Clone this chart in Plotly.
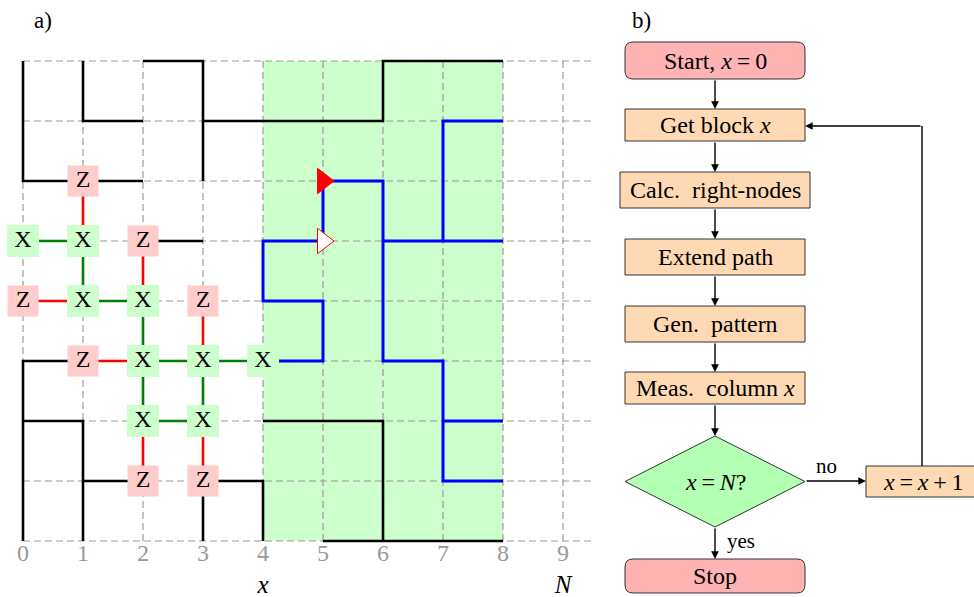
import plotly.graph_objects as go

W, H = 974, 597
SERIF = "Liberation Serif, DejaVu Serif, serif"

# ---------------- panel a) lattice data ----------------
cols = list(range(10))
rows = list(range(9))
col_labels = [str(c) for c in cols]
x_axis_label = "<i>x</i>"
n_label = "<i>N</i>"
window_cols = [4, 8]          # highlighted block of columns

# black boundary paths (column, row)
black_paths = [
    ([0, 0, 2], [8, 6, 6]),
    ([1, 1, 2], [8, 7, 7]),
    ([2, 3, 3], [8, 8, 6]),
    ([3, 6, 6, 8], [7, 7, 8, 8]),
    ([2, 3], [5, 5]),
    ([1, 0, 0], [3, 3, 0]),
    ([0, 1, 1], [2, 2, 0]),
    ([1, 2], [1, 1]),
    ([3, 4, 4], [1, 1, 0]),
    ([3, 3], [1, 0]),
    ([4, 6, 6], [2, 2, 0]),
    ([5, 8], [0, 0]),
]

# blue paths inside the window
blue_paths = [
    ([4, 5, 5, 4, 4, 5, 5, 6, 6, 7, 7, 8], [3, 3, 4, 4, 5, 5, 6, 6, 3, 3, 1, 1]),
    ([6, 8], [5, 5]),
    ([7, 7, 8], [5, 7, 7]),
    ([7, 8], [2, 2]),
]

# measured qubits
x_nodes = [(0, 5), (1, 5), (1, 4), (2, 4), (2, 3), (3, 3), (4, 3), (2, 2), (3, 2)]
z_nodes = [(1, 6), (2, 5), (0, 4), (3, 4), (1, 3), (2, 1), (3, 1)]

green_edges = [((0, 5), (1, 5)), ((1, 5), (1, 4)), ((1, 4), (2, 4)), ((2, 4), (2, 3)),
               ((2, 3), (3, 3)), ((3, 3), (4, 3)), ((2, 3), (2, 2)), ((2, 2), (3, 2)),
               ((3, 3), (3, 2))]
red_edges = [((1, 6), (1, 5)), ((2, 5), (2, 4)), ((0, 4), (1, 4)), ((3, 4), (3, 3)),
             ((1, 3), (2, 3)), ((2, 2), (2, 1)), ((3, 2), (3, 1))]

# path-direction markers
arrow_filled = (5, 6)
arrow_open = (5, 5)

# ---------------- panel b) flowchart data ----------------
EQ = "\u2009=\u2009"
step_labels = [f"Start, <i>x</i>{EQ}0", "Get block <i>x</i>", "Calc.  right-nodes",
               "Extend path", "Gen.  pattern", "Meas.  column <i>x</i>",
               f"<i>x</i>{EQ}<i>N</i>?", "Stop", f"<i>x</i>{EQ}<i>x</i>\u2009+\u20091"]
branch_labels = ["no", "yes"]

fig = go.Figure()

# left axis: one unit = 60 px, origin at (23, 541) px
LEFT_W = 600
xr = [-23 / 60, (LEFT_W - 23) / 60]
yr = [(541 - H) / 60, 541 / 60]

# dashed lattice
gx, gy = [], []
for c in cols:
    gx += [c, c, None]
    gy += [rows[0], rows[-1], None]
for r in rows:
    gx += [cols[0], 9.53, None]
    gy += [r, r, None]
fig.add_trace(go.Scatter(x=gx, y=gy, mode="lines", hoverinfo="skip",
                         line=dict(color="#9a9a9a", width=1.2, dash="7px,4px")))

for px, py in black_paths:
    fig.add_trace(go.Scatter(x=px, y=py, mode="lines", hoverinfo="skip",
                             line=dict(color="black", width=2.6)))
for px, py in blue_paths:
    fig.add_trace(go.Scatter(x=px, y=py, mode="lines", hoverinfo="skip",
                             line=dict(color="#0000ff", width=3)))


def edge_trace(edges, color):
    ex, ey = [], []
    for (a, b) in edges:
        ex += [a[0], b[0], None]
        ey += [a[1], b[1], None]
    return go.Scatter(x=ex, y=ey, mode="lines", hoverinfo="skip",
                      line=dict(color=color, width=2.6))


fig.add_trace(edge_trace(green_edges, "#008000"))
fig.add_trace(edge_trace(red_edges, "#ff0000"))

fig.add_trace(go.Scatter(
    x=[p[0] for p in x_nodes], y=[p[1] for p in x_nodes], mode="markers+text",
    text=["X"] * len(x_nodes), textposition="middle center",
    textfont=dict(family=SERIF, size=24, color="black"),
    marker=dict(symbol="square", size=32, color="#ccffcc", line=dict(width=0)),
    hoverinfo="skip"))
fig.add_trace(go.Scatter(
    x=[p[0] for p in z_nodes], y=[p[1] for p in z_nodes], mode="markers+text",
    text=["Z"] * len(z_nodes), textposition="middle center",
    textfont=dict(family=SERIF, size=24, color="black"),
    marker=dict(symbol="square", size=31, color="#ffcccc", line=dict(width=0)),
    hoverinfo="skip"))

fig.add_trace(go.Scatter(x=[arrow_filled[0]], y=[arrow_filled[1]], mode="markers",
                         marker=dict(symbol="triangle-right", size=22, color="#ff0000",
                                     line=dict(color="#ff0000", width=1)),
                         hoverinfo="skip"))
fig.add_trace(go.Scatter(x=[arrow_open[0]], y=[arrow_open[1]], mode="markers",
                         marker=dict(symbol="triangle-right", size=22, color="white",
                                     line=dict(color="#ff0000", width=1)),
                         hoverinfo="skip"))

# column numbers and axis labels
fig.add_trace(go.Scatter(x=cols, y=[-0.24] * len(cols), mode="text", text=col_labels,
                         textfont=dict(family=SERIF, size=24, color="#999999"),
                         hoverinfo="skip"))
fig.add_trace(go.Scatter(x=[4, 9], y=[-0.76, -0.76], mode="text",
                         text=[x_axis_label, n_label],
                         textfont=dict(family=SERIF, size=25, color="black"),
                         hoverinfo="skip"))

shapes = [dict(type="rect", xref="x", yref="y", x0=window_cols[0], x1=window_cols[1],
               y0=rows[0], y1=rows[-1], fillcolor="#ccffcc", line=dict(width=0),
               layer="below")]
annotations = [
    dict(xref="x", yref="y", x=xr[0] + 43 / 60, y=yr[1] - 20 / 60, text="a)",
         showarrow=False, font=dict(family=SERIF, size=23, color="black")),
]

# ---------------- flowchart (pixel coordinates on x2/y2) ----------------
PINK = "#ffb3b3"
PEACH = "#ffd9b3"
MINT = "#b3ffb3"
EDGE = "#333333"


def rounded(x0, y0, x1, y1, r):
    return (f"M {x0 + r},{y0} L {x1 - r},{y0} Q {x1},{y0} {x1},{y0 + r} "
            f"L {x1},{y1 - r} Q {x1},{y1} {x1 - r},{y1} L {x0 + r},{y1} "
            f"Q {x0},{y1} {x0},{y1 - r} L {x0},{y0 + r} Q {x0},{y0} {x0 + r},{y0} Z")


boxes = [  # (x0, y0, x1, y1, fill, rounded?)
    (625, 42, 805, 79, PINK, True),
    (625, 109, 805, 141, PEACH, False),
    (620, 172, 810, 208, PEACH, False),
    (625, 239, 805, 275, PEACH, False),
    (625, 306, 805, 342, PEACH, False),
    (625, 372, 805, 404, PEACH, False),
    None,
    (625, 559, 805, 593, PINK, True),
    (866, 466, 980, 497, PEACH, False),
]
diamond = (715, 436, 625, 805, 527)

for i, b in enumerate(boxes):
    if b is None:
        cx, cy = 715, (diamond[1] + diamond[4]) / 2
        shapes.append(dict(type="path", xref="x2", yref="y2",
                           path=f"M {diamond[2]},{cy} L {cx},{diamond[1]} L {diamond[3]},{cy} "
                                f"L {cx},{diamond[4]} Z",
                           fillcolor=MINT, line=dict(color=EDGE, width=1)))
    else:
        x0, y0, x1, y1, fill, rnd = b
        if rnd:
            shapes.append(dict(type="path", xref="x2", yref="y2",
                               path=rounded(x0, y0, x1, y1, 8),
                               fillcolor=fill, line=dict(color=EDGE, width=1)))
        else:
            shapes.append(dict(type="rect", xref="x2", yref="y2", x0=x0, x1=x1,
                               y0=y0, y1=y1, fillcolor=fill,
                               line=dict(color=EDGE, width=1)))
        cx, cy = (x0 + min(x1, 974)) / 2 + (3 if x1 > 974 else 0), (y0 + y1) / 2
    annotations.append(dict(xref="x2", yref="y2", x=cx, y=cy, text=step_labels[i],
                            showarrow=False,
                            font=dict(family=SERIF, size=24, color="black")))


def arrow(x0, y0, x1, y1):
    annotations.append(dict(xref="x2", yref="y2", axref="x2", ayref="y2",
                            x=x1, y=y1, ax=x0, ay=y0, text="", showarrow=True,
                            arrowhead=2, arrowsize=1.1, arrowwidth=1.4,
                            arrowcolor="black", standoff=0, startstandoff=0))


arrow(715, 79, 715, 109)
arrow(715, 141, 715, 172)
arrow(715, 208, 715, 239)
arrow(715, 275, 715, 306)
arrow(715, 342, 715, 372)
arrow(715, 404, 715, 436)
arrow(715, 527, 715, 559)
arrow(805, 481, 866, 481)
shapes.append(dict(type="path", xref="x2", yref="y2", path="M 922,466 L 922,126",
                   line=dict(color="black", width=1.4)))
arrow(922, 126, 805, 126)

annotations.append(dict(xref="x2", yref="y2", x=826, y=466, text=branch_labels[0],
                        showarrow=False, font=dict(family=SERIF, size=21, color="black")))
annotations.append(dict(xref="x2", yref="y2", x=741, y=541, text=branch_labels[1],
                        showarrow=False, font=dict(family=SERIF, size=21, color="black")))
annotations.append(dict(xref="x2", yref="y2", x=641, y=20, text="b)",
                        showarrow=False, font=dict(family=SERIF, size=23, color="black")))

# invisible anchor so the second axis pair is drawn
fig.add_trace(go.Scatter(x=[600], y=[0], xaxis="x2", yaxis="y2", mode="markers",
                         marker=dict(size=1, opacity=0), hoverinfo="skip"))

axis_off = dict(showgrid=False, zeroline=False, showticklabels=False, showline=False,
                ticks="", fixedrange=True)
fig.update_layout(
    width=W, height=H, margin=dict(l=0, r=0, t=0, b=0),
    paper_bgcolor="white", plot_bgcolor="rgba(0,0,0,0)", showlegend=False,
    xaxis=dict(domain=[0, LEFT_W / W], range=xr, **axis_off),
    yaxis=dict(domain=[0, 1], range=yr, **axis_off),
    xaxis2=dict(domain=[LEFT_W / W, 1], range=[LEFT_W, W], anchor="y2", **axis_off),
    yaxis2=dict(domain=[0, 1], range=[H, 0], anchor="x2", **axis_off),
    shapes=shapes, annotations=annotations,
)

fig.write_html("out.html")
